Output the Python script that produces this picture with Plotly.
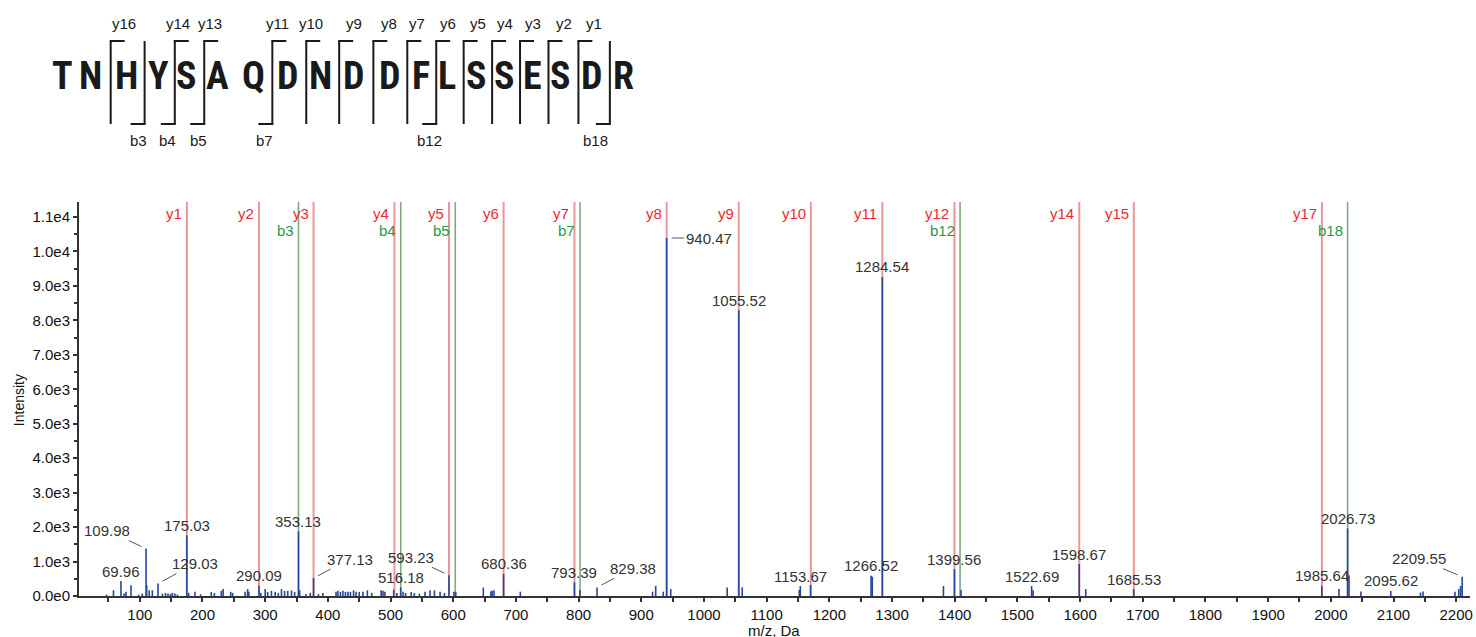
import plotly.graph_objects as go

# ---------------- data ----------------
peak_mz = [47, 58, 69.96, 75, 78, 86, 98, 104, 109.98, 111, 115, 120, 129.03, 136, 141, 145, 149, 152, 156, 160,
           175.03, 178, 188, 197, 214, 219, 230, 233, 245, 248, 268, 272, 274, 290.09, 293, 300, 304, 310, 316, 321,
           326, 331, 336, 342, 347, 353.13, 355, 365, 372, 377.13, 385, 392, 413, 416, 420, 424, 428, 432, 436, 441,
           445, 450, 456, 463, 470, 485, 488, 491, 505, 510, 516.18, 520, 524, 533, 538, 546, 555, 563, 570, 579,
           586, 593.23, 601, 604, 648, 660, 662, 665, 680.36, 707, 793.39, 802, 829.38, 918, 923, 935, 940.47, 947,
           1037, 1055.52, 1061, 1152, 1153.67, 1170, 1266.52, 1268.5, 1284.54, 1382, 1399.56, 1410, 1522.69, 1525,
           1598.67, 1609, 1685.53, 1985.64, 2013, 2026.73, 2029, 2048, 2095.62, 2143, 2147, 2198, 2204, 2207, 2209.55]
peak_int = [40, 165, 435, 70, 120, 310, 40, 70, 1375, 310, 165, 165, 360, 70, 90, 70, 60, 90, 70, 40,
            1760, 90, 120, 50, 120, 90, 150, 200, 120, 90, 120, 200, 120, 300, 90, 200, 120, 150, 120, 90,
            200, 150, 150, 160, 120, 1875, 165, 60, 90, 520, 60, 90, 120, 150, 120, 150, 120, 120, 120, 165,
            120, 120, 120, 165, 90, 165, 150, 120, 185, 90, 245, 120, 90, 120, 90, 70, 120, 165, 165, 120,
            90, 600, 120, 120, 245, 130, 150, 170, 640, 125, 395, 175, 250, 125, 290, 125, 10390, 200,
            250, 8295, 250, 175, 290, 320, 590, 560, 9260, 290, 780, 175, 290, 170,
            928, 200, 200, 300, 200, 1963, 600, 130, 150, 100, 130, 120, 200, 290, 560]

labeled_mz = [69.96, 109.98, 129.03, 175.03, 290.09, 353.13, 377.13, 516.18, 593.23, 680.36, 793.39, 829.38,
              940.47, 1055.52, 1153.67, 1266.52, 1284.54, 1399.56, 1522.69, 1598.67, 1685.53, 1985.64, 2026.73,
              2095.62, 2209.55]

y_ion_names = ["y1", "y2", "y3", "y4", "y5", "y6", "y7", "y8", "y9", "y10", "y11", "y12", "y14", "y15", "y17"]
y_ion_mz = [175.12, 290.15, 377.18, 506.22, 593.25, 680.29, 793.37, 940.44, 1055.46, 1170.49, 1284.53,
            1399.56, 1598.66, 1685.69, 1985.81]
b_ion_names = ["b3", "b4", "b5", "b7", "b12", "b18"]
b_ion_mz = [353.16, 516.22, 603.25, 802.35, 1408.54, 2026.79]

y_tick_vals = [0, 1000, 2000, 3000, 4000, 5000, 6000, 7000, 8000, 9000, 10000, 11000]
y_tick_text = ["0.0e0", "1.0e3", "2.0e3", "3.0e3", "4.0e3", "5.0e3", "6.0e3", "7.0e3", "8.0e3", "9.0e3",
               "1.0e4", "1.1e4"]

sequence = list("TNHYSAQDNDDFLSSESDR")
# fragment brackets: (label, boundary index k -> between residue k-1 and k, 0-based)
top_brackets = [("y16", 2), ("y14", 4), ("y13", 5), ("y11", 7), ("y10", 8), ("y9", 9), ("y8", 10), ("y7", 11),
                ("y6", 12), ("y5", 13), ("y4", 14), ("y3", 15), ("y2", 16), ("y1", 17)]
bottom_brackets = [("b3", 3), ("b4", 4), ("b5", 5), ("b7", 7), ("b12", 12), ("b18", 18)]

# ---------------- layout constants ----------------
W, H = 1476, 637
L_M, R_M, T_M, B_M = 79, 3, 202, 41
PW, PH = W - L_M - R_M, H - T_M - B_M
X_RANGE = [3, 2222]
Y_RANGE = [0, 11435]


def px(xp):
    return (xp - L_M) / PW


def py(yp):
    return (H - B_M - yp) / PH


letter_cx = [62, 91, 126.5, 159, 187, 218, 253.5, 288, 321.5, 354, 390, 422, 448, 477, 505, 533, 562, 593, 625]
top_label_cx = {"y16": 124, "y14": 178, "y13": 210, "y11": 278, "y10": 312, "y9": 355, "y8": 390, "y7": 418,
                "y6": 449, "y5": 479, "y4": 506, "y3": 534, "y2": 565, "y1": 595}
bottom_label_cx = {"b3": 139, "b4": 168, "b5": 199, "b7": 265, "b12": 430, "b18": 597}
leader_offsets = {109.98: (-39, -18), 129.03: (37, -20), 377.13: (36, -19), 593.23: (-38, -18),
                  829.38: (36, -19), 940.47: (42, 0), 2209.55: (-43, -18)}

RED_LINE, GREEN_LINE = "#ec9696", "#7fa97f"
RED_TXT, GREEN_TXT = "#f0282d", "#1f9a45"
BLUE = "#2545a0"
TXT = "#333333"
FONT = "Liberation Sans, Arial, sans-serif"

fig = go.Figure()

# ion lines (shapes, below traces)
shapes = []
for m in y_ion_mz:
    shapes.append(dict(type="line", xref="x", yref="paper", x0=m, x1=m, y0=0, y1=1,
                       line=dict(color=RED_LINE, width=2), layer="below"))
for m in b_ion_mz:
    shapes.append(dict(type="line", xref="x", yref="paper", x0=m, x1=m, y0=0, y1=1,
                       line=dict(color=GREEN_LINE, width=1.6), layer="below"))

# spectrum sticks
xs, ys = [], []
for m, i in zip(peak_mz, peak_int):
    xs += [m, m, None]
    ys += [0, i, None]
fig.add_trace(go.Scatter(x=xs, y=ys, mode="lines", line=dict(color=BLUE, width=1.6),
                         hoverinfo="skip", showlegend=False))

annotations = []
# ion labels
for n, m in zip(y_ion_names, y_ion_mz):
    annotations.append(dict(x=m, y=1, xref="x", yref="paper", text=n, showarrow=False, xanchor="right",
                            yanchor="middle", xshift=-3, yshift=-11,
                            font=dict(family=FONT, size=15, color=RED_TXT)))
for n, m in zip(b_ion_names, b_ion_mz):
    annotations.append(dict(x=m, y=1, xref="x", yref="paper", text=n, showarrow=False, xanchor="right",
                            yanchor="middle", xshift=-3, yshift=-28,
                            font=dict(family=FONT, size=15, color=GREEN_TXT)))

# peak labels
for m in labeled_mz:
    inten = peak_int[peak_mz.index(m)]
    if m in leader_offsets:
        ax, ay = leader_offsets[m]
        annotations.append(dict(x=m, y=inten, xref="x", yref="y", text=f"{m:.2f}", showarrow=True,
                                arrowhead=0, arrowwidth=1, arrowcolor="#555", ax=ax, ay=ay,
                                standoff=5, font=dict(family=FONT, size=15, color=TXT)))
    else:
        annotations.append(dict(x=m, y=inten, xref="x", yref="y", text=f"{m:.2f}", showarrow=False,
                                xanchor="center", yanchor="middle", yshift=10,
                                font=dict(family=FONT, size=15, color=TXT)))

# axis titles
annotations.append(dict(x=px(19), y=py(400), xref="paper", yref="paper", text="Intensity", showarrow=False,
                        textangle=-90, xanchor="center", yanchor="middle",
                        font=dict(family=FONT, size=14, color="#111")))
annotations.append(dict(x=px(775), y=py(630), xref="paper", yref="paper", text="m/z, Da", showarrow=False,
                        xanchor="center", yanchor="middle", font=dict(family=FONT, size=15, color="#111")))

# ---------------- sequence header ----------------
SEQ_FONT = ("Roboto Condensed, Noto Sans Condensed, Liberation Sans Narrow, DejaVu Sans Condensed, "
            "Arial Narrow, sans-serif")
for ch, cx in zip(sequence, letter_cx):
    annotations.append(dict(x=px(cx), y=py(76), xref="paper", yref="paper", text=f"<b>{ch}</b>",
                            showarrow=False, xanchor="center", yanchor="middle",
                            font=dict(family=SEQ_FONT, size=38, color="#1a1a1a")))

BR_TOP, BR_BOT, HOOK = 41, 124, 14


def bracket_x(k):
    return (letter_cx[k - 1] + letter_cx[k]) / 2 + 2


bracket_ks = sorted(set([k for _, k in top_brackets] + [k for _, k in bottom_brackets]))
for k in bracket_ks:
    bx = bracket_x(k)
    shapes.append(dict(type="line", xref="paper", yref="paper", x0=px(bx), x1=px(bx),
                       y0=py(BR_TOP), y1=py(BR_BOT), line=dict(color="#1a1a1a", width=2)))
for name, k in top_brackets:
    bx = bracket_x(k)
    shapes.append(dict(type="line", xref="paper", yref="paper", x0=px(bx - 1), x1=px(bx + HOOK),
                       y0=py(BR_TOP), y1=py(BR_TOP), line=dict(color="#1a1a1a", width=2)))
    annotations.append(dict(x=px(top_label_cx[name]), y=py(23), xref="paper", yref="paper", text=name,
                            showarrow=False, xanchor="center", yanchor="middle",
                            font=dict(family=FONT, size=15, color="#1a1a1a")))
for name, k in bottom_brackets:
    bx = bracket_x(k)
    shapes.append(dict(type="line", xref="paper", yref="paper", x0=px(bx - HOOK), x1=px(bx + 1),
                       y0=py(BR_BOT), y1=py(BR_BOT), line=dict(color="#1a1a1a", width=2)))
    annotations.append(dict(x=px(bottom_label_cx[name]), y=py(140), xref="paper", yref="paper", text=name,
                            showarrow=False, xanchor="center", yanchor="middle",
                            font=dict(family=FONT, size=15, color="#1a1a1a")))

fig.update_layout(
    width=W, height=H,
    margin=dict(l=L_M, r=R_M, t=T_M, b=B_M, pad=0),
    paper_bgcolor="white", plot_bgcolor="white",
    shapes=shapes, annotations=annotations,
    showlegend=False,
    font=dict(family=FONT, size=15, color="#111"),
    xaxis=dict(range=X_RANGE, showline=True, linecolor="#333", linewidth=2, showgrid=False, zeroline=False,
               ticks="outside", ticklen=4, tickwidth=1.5, tickcolor="#333", tick0=0, dtick=100,
               tickfont=dict(family=FONT, size=15, color="#111"),
               minor=dict(dtick=50, ticks="outside", ticklen=4, tickwidth=1.5, tickcolor="#333", showgrid=False)),
    yaxis=dict(range=Y_RANGE, showline=True, linecolor="#333", linewidth=2, showgrid=False, zeroline=False,
               ticks="outside", ticklen=4, tickwidth=1.5, tickcolor="#333",
               tickvals=y_tick_vals, ticktext=y_tick_text,
               tickfont=dict(family=FONT, size=15, color="#111"),
               minor=dict(dtick=500, ticks="outside", ticklen=3, tickwidth=1.5, tickcolor="#333", showgrid=False)),
)

fig.write_html("out.html", config={"displayModeBar": False},
               post_script="document.body.style.margin='0';document.body.style.padding='0';")
